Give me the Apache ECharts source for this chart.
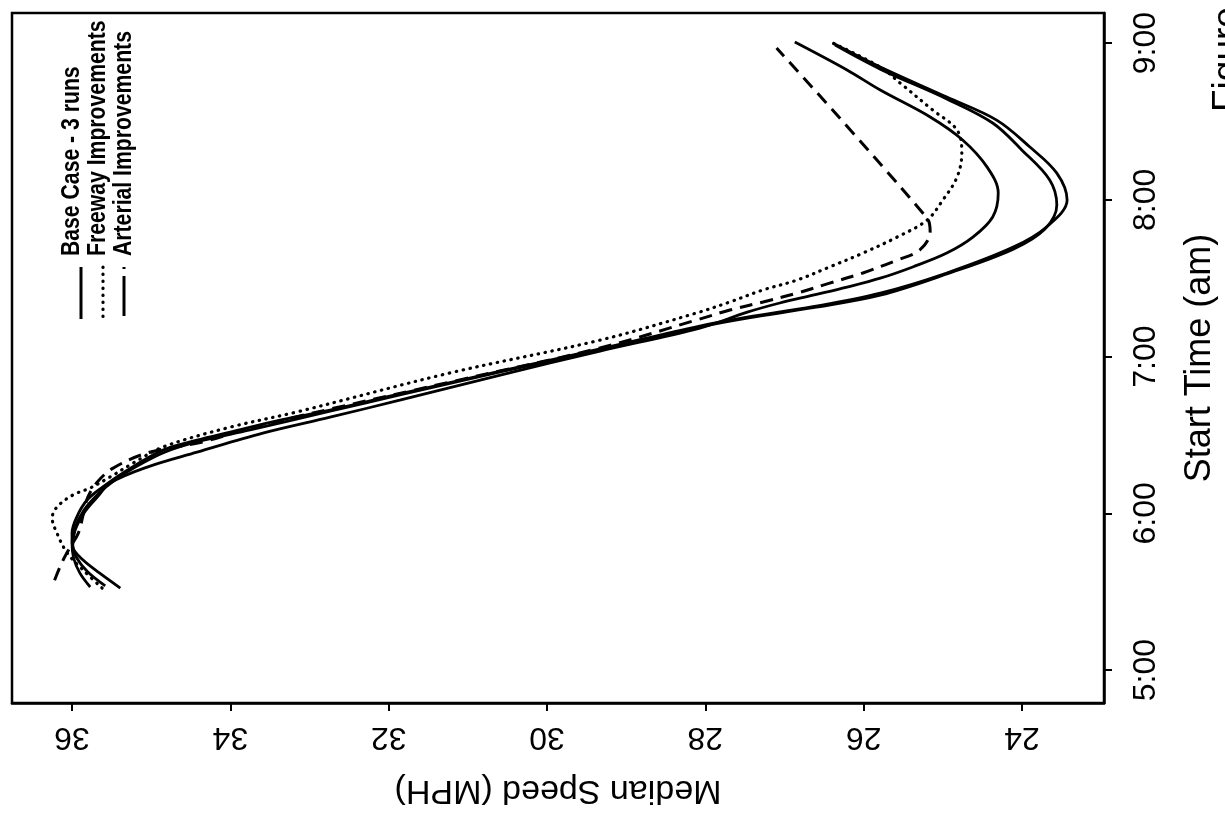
<!DOCTYPE html>
<html>
<head>
<meta charset="utf-8">
<script src="https://cdn.jsdelivr.net/npm/echarts@6/dist/echarts.min.js"></script>
<style>
html,body{margin:0;padding:0;background:#fff;}
#chart{width:1225px;height:814px;}
</style>
</head>
<body>
<div id="chart"></div>
<script>
// Values: [median speed (MPH), start time (minutes after midnight)]
var speedTicks = [24, 26, 28, 30, 32, 34, 36];
var timeTicks = [300, 360, 420, 480, 540]; // 5:00 ... 9:00
var seriesNames = ['Base Case - 3 runs', 'Freeway Improvements', 'Arterial Improvements'];

var baseRun1 = [[35.39,331.4],[35.65,337.1],[35.86,342.1],[35.99,347.1],[36.00,352.4],[35.94,358.6],[35.81,365.1],[35.61,370.1],[35.36,375.4],[34.85,384.2],[34.42,388.0],[34.00,391.1],[33.37,395.7],[32.74,399.5],[31.86,405.7],[30.59,414.4],[29.33,422.9],[28.07,431.7],[27.47,435.1],[26.64,439.1],[25.79,444.3],[24.95,452.0],[24.11,461.9],[23.69,469.6],[23.43,479.9],[23.56,490.2],[23.90,500.2],[24.32,510.5],[24.95,519.3],[25.79,530.8],[26.39,540.0]];
var baseRun2 = [[35.77,331.8],[35.90,337.1],[35.98,342.9],[36.00,348.6],[35.96,354.7],[35.85,361.2],[35.67,367.4],[35.46,372.7],[35.20,377.7],[34.83,383.4],[34.38,387.7],[33.75,391.9],[32.74,399.1],[31.86,405.3],[30.59,414.1],[29.33,422.5],[28.07,431.3],[27.47,434.7],[26.64,438.7],[25.79,443.5],[24.95,451.6],[24.11,461.1],[23.71,468.8],[23.56,478.0],[23.65,487.6],[24.00,499.0],[24.37,509.4],[24.95,518.6],[25.79,530.0],[26.36,539.2]];
var baseRun3 = [[35.58,332.2],[35.80,337.5],[35.94,342.9],[35.99,347.8],[35.96,353.6],[35.84,360.5],[35.67,366.6],[35.52,371.6],[35.05,377.7],[34.42,383.4],[33.59,390.7],[32.74,396.8],[31.86,403.3],[30.59,412.9],[29.33,422.1],[28.07,430.9],[27.47,437.0],[27.06,440.5],[26.64,443.5],[26.21,446.6],[25.79,450.0],[25.38,454.3],[24.95,459.6],[24.62,465.7],[24.37,473.4],[24.30,482.6],[24.44,492.5],[24.75,502.9],[25.16,511.7],[25.79,522.0],[26.21,529.7],[26.87,540.4]];
var freeway = [[35.62,331.4],[35.86,338.3],[36.06,344.8],[36.19,352.4],[36.25,358.2],[36.19,362.4],[35.99,367.0],[35.77,369.7],[35.52,373.9],[35.23,379.2],[34.85,385.4],[34.00,393.0],[33.16,398.8],[31.23,413.7],[29.33,426.3],[28.11,436.7],[27.69,440.9],[27.27,445.5],[26.84,449.3],[26.43,454.3],[26.01,459.6],[25.58,465.7],[25.20,472.2],[25.00,479.9],[24.82,488.7],[24.76,497.9],[24.82,506.7],[25.13,514.4],[25.54,524.7],[25.79,530.8],[26.39,540.0]];
var arterial = [[36.22,334.4],[36.13,341.0],[36.03,346.7],[35.92,352.4],[35.86,359.3],[35.80,366.2],[35.68,372.0],[35.48,377.3],[35.05,383.1],[34.35,387.3],[33.75,392.6],[32.74,399.9],[31.23,410.2],[29.33,423.3],[28.11,434.0],[27.69,437.8],[27.27,440.9],[26.84,444.3],[26.43,448.1],[26.01,452.0],[25.58,456.9],[25.29,460.8],[25.16,467.7],[25.20,473.0],[27.10,538.1]];

var FONT = 'Liberation Sans, Arial, Helvetica, sans-serif';

function timeLabel(v) {
  var h = Math.floor(v / 60), m = Math.round(v % 60);
  return h + ':' + (m < 10 ? '0' + m : m);
}

var chart = echarts.init(document.getElementById('chart'), null, {renderer: 'canvas'});

function solid(name, data) {
  return {type: 'line', name: name, data: data, showSymbol: false, smooth: 0.35,
    lineStyle: {color: '#000', width: 2.8, type: 'solid'}, silent: true};
}

var option = {
  animation: false,
  backgroundColor: '#fff',
  grid: {left: 12, top: 13, right: 121, bottom: 111, outerBoundsMode: 'none', containLabel: false,
    show: true, borderColor: '#000', borderWidth: 2.5, backgroundColor: 'transparent'},
  xAxis: {
    type: 'value', inverse: true, min: 22.964, max: 36.758, position: 'bottom',
    axisLine: {show: true, lineStyle: {color: '#000', width: 2.5}},
    axisTick: {show: true, customValues: speedTicks, length: 8, lineStyle: {color: '#000', width: 2}},
    axisLabel: {customValues: speedTicks, rotate: 180, fontSize: 32, color: '#000', margin: 18, fontFamily: FONT},
    splitLine: {show: false},
    name: 'Median Speed (MPH)', nameLocation: 'middle', nameRotate: 180, nameGap: 70,
    nameTextStyle: {fontSize: 34, color: '#000', fontFamily: FONT}
  },
  yAxis: {
    type: 'value', min: 287.4, max: 551.5, position: 'right',
    axisLine: {show: true, lineStyle: {color: '#000', width: 2.5}},
    axisTick: {show: true, customValues: timeTicks, length: 8, lineStyle: {color: '#000', width: 2}},
    axisLabel: {customValues: timeTicks, rotate: 90, fontSize: 32, color: '#000', margin: 26, fontFamily: FONT, formatter: timeLabel},
    splitLine: {show: false},
    name: 'Start Time (am)', nameLocation: 'middle', nameRotate: 90, nameGap: 78,
    nameTextStyle: {fontSize: 36, color: '#000', fontFamily: FONT}
  },
  series: [
    solid(seriesNames[0], baseRun1),
    solid(seriesNames[0], baseRun2),
    solid(seriesNames[0], baseRun3),
    {type: 'line', name: seriesNames[1], data: freeway, showSymbol: false, smooth: 0.35, silent: true,
      lineStyle: {color: '#000', width: 3.2, type: [0.5, 6.5], cap: 'round'}},
    {type: 'line', name: seriesNames[2], data: arterial, showSymbol: false, smooth: 0.35, silent: true,
      lineStyle: {color: '#000', width: 3, type: [13, 8]}}
  ],
  graphic: [
    {type: 'line', shape: {x1: 81, y1: 267, x2: 81, y2: 319}, style: {stroke: '#000', lineWidth: 3}},
    {type: 'line', shape: {x1: 103, y1: 267, x2: 103, y2: 319}, style: {stroke: '#000', lineWidth: 3.2, lineDash: [0.5, 6.5], lineCap: 'round'}},
    {type: 'line', shape: {x1: 124, y1: 267, x2: 124, y2: 319}, style: {stroke: '#000', lineWidth: 3, lineDash: [2, 7, 40, 10]}},
    {type: 'text', x: 72, y: 256, rotation: Math.PI / 2, scaleX: 0.815, style: {text: seriesNames[0], font: 'bold 26px ' + FONT, fill: '#000', align: 'left', verticalAlign: 'middle'}},
    {type: 'text', x: 98, y: 256, rotation: Math.PI / 2, scaleX: 0.815, style: {text: seriesNames[1], font: 'bold 26px ' + FONT, fill: '#000', align: 'left', verticalAlign: 'middle'}},
    {type: 'text', x: 124, y: 256, rotation: Math.PI / 2, scaleX: 0.815, style: {text: seriesNames[2], font: 'bold 26px ' + FONT, fill: '#000', align: 'left', verticalAlign: 'middle'}},
    {type: 'text', x: 1228, y: 112, rotation: Math.PI / 2, style: {text: 'Figure', font: '37px ' + FONT, fill: '#000', align: 'left', verticalAlign: 'middle'}}
  ]
};
chart.setOption(option);
</script>
</body>
</html>
